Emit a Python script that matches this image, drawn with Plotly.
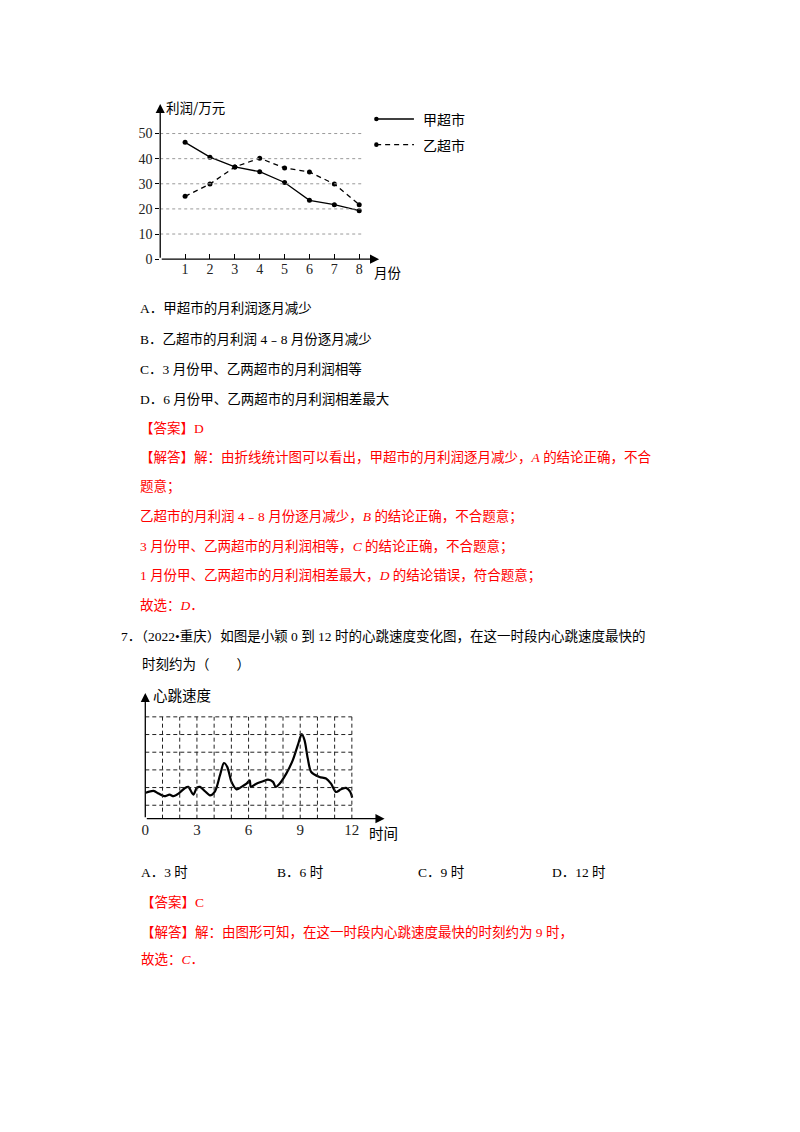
import plotly.graph_objects as go

W, H = 800, 1132

# ---------------- data: chart 1 (monthly profit) ----------------
months = [1, 2, 3, 4, 5, 6, 7, 8]
jia_profit = [46.5, 40.6, 36.7, 34.8, 30.5, 23.4, 21.7, 19.3]
yi_profit = [25.0, 29.9, 36.7, 40.2, 36.3, 34.7, 29.9, 21.7]
profit_ticks = [0, 10, 20, 30, 40, 50]
profit_grid = [10, 20, 30, 40, 50]
series_names = ["甲超市", "乙超市"]

# ---------------- data: chart 2 (heart rate) ----------------
hours = [0.03, 0.48, 0.77, 1.10, 1.41, 1.64, 1.93, 2.31, 2.50, 2.79, 2.99, 3.18,
         3.47, 3.76, 4.05, 4.34, 4.57, 4.76, 5.01, 5.30, 5.59, 5.88, 6.07, 6.13,
         6.45, 6.84, 7.13, 7.42, 7.57, 7.80, 8.19, 8.57, 8.86, 9.09, 9.25, 9.44,
         9.64, 10.12, 10.50, 10.79, 11.08, 11.37, 11.66, 11.89, 12.02]
heart_rate = [1.71, 1.81, 1.66, 1.51, 1.60, 1.51, 1.66, 1.98, 2.04, 1.60, 1.98, 2.04,
              1.79, 1.56, 1.79, 2.70, 3.39, 3.17, 2.32, 1.90, 2.04, 2.22, 2.41, 2.04,
              2.22, 2.36, 2.45, 2.32, 2.04, 2.22, 2.79, 3.55, 4.40, 5.02, 4.68, 3.64,
              2.88, 2.60, 2.51, 2.22, 1.75, 1.90, 1.98, 1.79, 1.43]
hour_ticks = [0, 3, 6, 9, 12]
hour_grid = list(range(1, 13))
heart_grid = [1, 2, 3, 4, 5, 6]


# page-pixel -> paper helpers (small correction for the capture's scaling)
def px(p):
    return (p - 3.0) / W


def py(p):
    return 1 - ((p + 1.2) / 0.992) / H


TXT = "Liberation Serif, Noto Sans CJK SC"
CJK = "Noto Sans CJK SC"
RED = "#ff0000"
FS = 13.5

fig = go.Figure()

fig.add_trace(go.Scatter(x=months, y=jia_profit, mode="lines+markers",
                         line=dict(color="black", width=1.3),
                         marker=dict(color="black", size=5),
                         xaxis="x", yaxis="y", showlegend=False, hoverinfo="skip"))
fig.add_trace(go.Scatter(x=months, y=yi_profit, mode="lines+markers",
                         line=dict(color="black", width=1.3, dash="5px,4px"),
                         marker=dict(color="black", size=5),
                         xaxis="x", yaxis="y", showlegend=False, hoverinfo="skip"))

fig.add_trace(go.Scatter(x=hours, y=heart_rate, mode="lines",
                         line=dict(color="black", width=2.2, shape="spline", smoothing=0.8),
                         xaxis="x2", yaxis="y2", showlegend=False, hoverinfo="skip"))

shapes = []
for g in profit_grid:
    shapes.append(dict(type="line", xref="x", yref="y", x0=0, x1=8.12, y0=g, y1=g,
                       line=dict(color="#9a9a9a", width=1, dash="dot")))
for g in heart_grid:
    shapes.append(dict(type="line", xref="x2", yref="y2", x0=0, x1=12, y0=g, y1=g,
                       line=dict(color="#222", width=1, dash="4px,3px")))
for h in hour_grid:
    shapes.append(dict(type="line", xref="x2", yref="y2", x0=h, x1=h, y0=0.24, y1=6,
                       line=dict(color="#222", width=1, dash="4px,3px")))

leg_y = [117.7, 143.3]
leg_dash = ["solid", "5px,4px"]
for name, ly, dsh in zip(series_names, leg_y, leg_dash):
    shapes.append(dict(type="line", xref="paper", yref="paper", x0=px(377), x1=px(415),
                       y0=py(ly), y1=py(ly), line=dict(color="black", width=1.3, dash=dsh)))
    shapes.append(dict(type="circle", xref="paper", yref="paper",
                       x0=px(375), x1=px(379.5), y0=py(ly + 2.3), y1=py(ly - 2.3),
                       fillcolor="black", line=dict(color="black", width=0)))

annotations = []
for name, ly in zip(series_names, leg_y):
    annotations.append(dict(xref="paper", yref="paper", x=px(422), y=py(ly), text=name,
                            showarrow=False, xanchor="left", yanchor="middle",
                            font=dict(family=CJK, size=14, color="black")))


def arrow(x0, y0, x1, y1, xr, yr):
    return dict(x=x1, y=y1, ax=x0, ay=y0, xref=xr, yref=yr, axref=xr, ayref=yr,
                text="", showarrow=True, arrowhead=2, arrowsize=1.4, arrowwidth=1.3,
                arrowcolor="black", standoff=0, startstandoff=0)


annotations += [
    arrow(0, 0, 8.8, 0, "x", "y"),
    arrow(0, 0, 0, 61.8, "x", "y"),
    arrow(0, 0.24, 13.9, 0.24, "x2", "y2"),
    arrow(0, 0.24, 0, 7.35, "x2", "y2"),
]

annotations += [
    dict(xref="paper", yref="paper", x=px(164), y=py(106), text="利润/万元", showarrow=False,
         xanchor="left", yanchor="middle", font=dict(family=CJK, size=13.5, color="black")),
    dict(xref="paper", yref="paper", x=px(373), y=py(271), text="月份", showarrow=False,
         xanchor="left", yanchor="middle", font=dict(family=CJK, size=13.5, color="black")),
    dict(xref="paper", yref="paper", x=px(151), y=py(693), text="心跳速度", showarrow=False,
         xanchor="left", yanchor="middle", font=dict(family=CJK, size=14.5, color="black")),
    dict(xref="paper", yref="paper", x=px(368), y=py(831), text="时间", showarrow=False,
         xanchor="left", yanchor="middle", font=dict(family=CJK, size=14.5, color="black")),
]

lines = [
    (138, 307, "A．甲超市的月利润逐月减少", "black"),
    (138, 337, "B．乙超市的月利润 4﹣8 月份逐月减少", "black"),
    (138, 367, "C．3 月份甲、乙两超市的月利润相等", "black"),
    (138, 397, "D．6 月份甲、乙两超市的月利润相差最大", "black"),
    (138, 426, "【答案】D", RED),
    (138, 455, "【解答】解：由折线统计图可以看出，甲超市的月利润逐月减少，<i>A</i> 的结论正确，不合", RED),
    (138, 485, "题意；", RED),
    (138, 515, "乙超市的月利润 4﹣8 月份逐月减少，<i>B</i> 的结论正确，不合题意；", RED),
    (138, 545, "3 月份甲、乙两超市的月利润相等，<i>C</i> 的结论正确，不合题意；", RED),
    (138, 574, "1 月份甲、乙两超市的月利润相差最大，<i>D</i> 的结论错误，符合题意；", RED),
    (138, 604, "故选：<i>D</i>．", RED),
    (119, 634, "7．（2022•重庆）如图是小颖 0 到 12 时的心跳速度变化图，在这一时段内心跳速度最快的", "black"),
    (140, 663, "时刻约为（　　）", "black"),
    (139, 870, "A．3 时", "black"),
    (275, 870, "B．6 时", "black"),
    (417, 870, "C．9 时", "black"),
    (552, 870, "D．12 时", "black"),
    (139, 900, "【答案】C", RED),
    (139, 930, "【解答】解：由图形可知，在这一时段内心跳速度最快的时刻约为 9 时，", RED),
    (139, 957, "故选：<i>C</i>．", RED),
]
for lx, ly, t, c in lines:
    annotations.append(dict(xref="paper", yref="paper", x=px(lx), y=py(ly), text=t,
                            showarrow=False, xanchor="left", yanchor="middle",
                            font=dict(family=TXT, size=FS, color=c)))

fig.update_layout(
    width=W, height=H, margin=dict(l=0, r=0, t=0, b=0),
    paper_bgcolor="white", plot_bgcolor="rgba(0,0,0,0)",
    showlegend=False, hovermode=False,
    shapes=shapes, annotations=annotations,
    xaxis=dict(domain=[px(160), px(385)], range=[0, 9], tickvals=months,
               ticks="inside", ticklen=5, tickcolor="black", tickwidth=1,
               showgrid=False, zeroline=False, showline=False,
               tickfont=dict(family="Liberation Serif", size=14, color="#222"), anchor="y"),
    yaxis=dict(domain=[py(257.7), py(102.1)], range=[0, 62], tickvals=profit_ticks,
               ticks="outside", ticklen=4, tickcolor="black", tickwidth=1,
               showgrid=False, zeroline=False, showline=False,
               tickfont=dict(family="Liberation Serif", size=14, color="#222"), anchor="x"),
    xaxis2=dict(domain=[px(145), px(387.2)], range=[0, 14], tickvals=hour_ticks,
                ticks="", showgrid=False, zeroline=False, showline=False,
                tickfont=dict(family="Liberation Serif", size=15, color="#222"), anchor="y2"),
    yaxis2=dict(domain=[py(816.7), py(688.5)], range=[0.24, 7.5], showticklabels=False,
                ticks="", showgrid=False, zeroline=False, showline=False, anchor="x2"),
)

fig.write_html("out.html", config={"displayModeBar": False, "staticPlot": True},
               post_script="document.body.style.margin='0';document.body.style.overflow='hidden';document.documentElement.style.overflow='hidden';")
